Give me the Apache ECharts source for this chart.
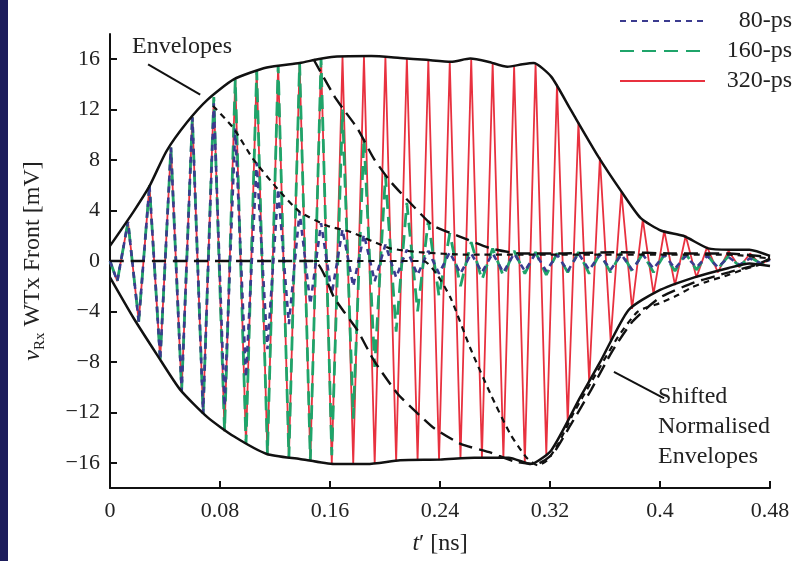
<!DOCTYPE html>
<html><head><meta charset="utf-8">
<script src="https://cdn.jsdelivr.net/npm/echarts@6/dist/echarts.min.js"></script>
<style>html,body{margin:0;padding:0;background:#fff}#c{width:803px;height:561px}</style>
</head><body><div id="c"></div>
<script>
// times of the extrema of the carrier
const tExt = [0, 0.0053, 0.0131, 0.0209, 0.0287, 0.0365, 0.0443, 0.0521, 0.0599, 0.0677, 0.0755,
  0.0833, 0.0911, 0.0989, 0.1067, 0.1145, 0.1223, 0.1301, 0.1379, 0.1457, 0.1535,
  0.1613, 0.1691, 0.1769, 0.1847, 0.1925, 0.2003, 0.2081, 0.2159, 0.2237, 0.2315,
  0.2393, 0.2471, 0.2549, 0.2627, 0.2705, 0.2783, 0.2861, 0.2939, 0.3017, 0.3095,
  0.3173, 0.3251, 0.3329, 0.3407, 0.3485, 0.3563, 0.3641, 0.3719, 0.3797, 0.3875,
  0.3953, 0.4031, 0.4109, 0.4187, 0.4265, 0.4343, 0.4421, 0.4499, 0.4577, 0.4655,
  0.4733, 0.48];

const v320 = [0, -1.6, 3.1, -4.8, 6.0, -7.8, 9.0, -10.3, 11.4, -12.1, 13.0,
  -13.5, 14.4, -14.5, 15.1, -15.3, 15.5, -15.6, 15.7, -15.8, 16.0,
  -16.1, 16.2, -16.1, 16.2, -16.1, 16.2, -15.9, 16.1, -15.8, 15.9,
  -15.8, 15.8, -15.7, 16.0, -15.6, 15.7, -15.6, 15.4, -16.0, 15.6,
  -15.3, 14.0, -12.8, 11.0, -9.6, 8.2, -6.3, 5.5, -3.8, 3.3,
  -2.6, 2.4, -1.9, 2.0, -1.3, 1.1, -0.9, 0.8, -0.5, 0.6,
  -0.3, 0.2];

const v160 = [0, -1.6, 3.1, -4.8, 6.0, -7.8, 9.0, -10.3, 11.4, -12.1, 13.0,
  -13.5, 14.4, -14.5, 15.1, -15.3, 15.5, -15.6, 15.7, -15.8, 16.0,
  -15.4, 12.0, -12.5, 9.8, -8.4, 6.8, -5.6, 4.6, -4.0, 3.2,
  -2.8, 2.2, -2.0, 1.5, -1.5, 1.0, -1.2, 0.8, -1.0, 0.7,
  -1.1, 0.6, -0.9, 0.7, -1.0, 0.6, -0.9, 0.7, -0.8, 0.6,
  -0.9, 0.5, -0.8, 0.6, -0.7, 0.5, -0.6, 0.4, -0.4, 0.3,
  -0.2, 0.1];

const v80 = [0, -1.6, 3.1, -4.8, 6.0, -7.8, 9.0, -10.3, 11.4, -12.1, 12.5,
  -11.5, 10.5, -9.2, 7.8, -7.0, 5.7, -5.0, 3.9, -3.4, 3.0,
  -2.6, 2.5, -2.0, 2.1, -1.6, 1.3, -1.3, 0.9, -1.1, 0.8,
  -1.0, 0.7, -1.0, 0.6, -0.9, 0.6, -0.9, 0.6, -0.8, 0.6,
  -0.8, 0.5, -0.8, 0.6, -0.7, 0.5, -0.7, 0.5, -0.7, 0.5,
  -0.6, 0.5, -0.6, 0.4, -0.5, 0.4, -0.5, 0.3, -0.3, 0.2,
  -0.2, 0.1];

// envelopes [t (ns), v (mV)]
const envUpper = [[0,1.2],[0.017,3.9],[0.029,6.0],[0.041,8.7],[0.056,11.0],[0.071,12.8],[0.09,14.4],
  [0.114,15.35],[0.138,15.7],[0.151,16.0],[0.163,16.2],[0.19,16.25],[0.211,16.1],[0.23,15.95],
  [0.248,15.8],[0.262,16.05],[0.275,15.8],[0.289,15.4],[0.3,15.6],[0.308,15.7],[0.321,14.6],
  [0.335,12.0],[0.355,8.3],[0.372,5.5],[0.386,3.4],[0.401,2.4],[0.417,2.0],[0.435,1.0],
  [0.45,0.9],[0.465,0.9],[0.48,0.4]];
const envLower = [[0,-1.3],[0.017,-4.5],[0.034,-7.4],[0.051,-10.2],[0.071,-12.4],[0.09,-13.9],
  [0.114,-15.3],[0.138,-15.7],[0.163,-16.1],[0.187,-16.1],[0.211,-15.8],[0.24,-15.75],
  [0.265,-15.6],[0.29,-15.6],[0.306,-16.1],[0.321,-15.0],[0.342,-10.8],[0.357,-7.9],
  [0.377,-3.9],[0.398,-2.4],[0.425,-1.3],[0.45,-0.55],[0.465,-0.2],[0.48,-0.4]];
const env160Upper = [[0.148,16],[0.163,13.1],[0.17,12.0],[0.18,10.5],[0.192,8.1],[0.204,6.3],
  [0.221,4.3],[0.235,2.8],[0.253,2.0],[0.277,1.0],[0.299,0.6],[0.33,0.6],[0.37,0.7],
  [0.41,0.6],[0.45,0.6],[0.48,0.3]];
const env160Lower = [[0,0],[0.148,0],[0.163,-2.9],[0.17,-4.0],[0.18,-5.5],[0.192,-7.9],
  [0.209,-10.5],[0.221,-11.8],[0.235,-13.2],[0.255,-14.5],[0.277,-15.2],[0.294,-15.9],
  [0.31,-16.1],[0.322,-15.3],[0.335,-13.0],[0.35,-10.2],[0.365,-7.2],[0.38,-4.8],
  [0.4,-2.9],[0.425,-1.7],[0.45,-0.9],[0.47,-0.3],[0.48,0.2]];
const env80Upper = [[0.075,12.3],[0.09,10.5],[0.104,8.1],[0.122,5.7],[0.138,3.9],[0.158,2.8],
  [0.175,2.3],[0.19,1.6],[0.204,1.0],[0.225,0.7],[0.26,0.5],[0.3,0.5],[0.35,0.5],
  [0.4,0.5],[0.45,0.5],[0.48,0.2]];
const env80Lower = [[0.148,0],[0.228,0],[0.238,-1.1],[0.248,-3.0],[0.262,-6.9],[0.277,-10.6],
  [0.291,-13.7],[0.303,-15.6],[0.311,-16.2],[0.318,-15.8],[0.326,-14.5],[0.337,-12.1],
  [0.35,-9.6],[0.369,-6.1],[0.384,-4.0],[0.401,-3.3],[0.413,-2.7],[0.423,-2.1],
  [0.435,-1.6],[0.447,-1.2],[0.46,-0.7],[0.475,-0.2],[0.48,0.2]];
// annotation pointers
const ptrEnvelopes = [[0.0277,15.6],[0.0656,13.2]];
const ptrShifted = [[0.3665,-8.8],[0.403,-10.9]];

const yTicks = [-16,-12,-8,-4,0,4,8,12,16];
const seriesNames = ['80-ps','160-ps','320-ps'];

const SERIF = '"Liberation Serif","Times New Roman",serif';
const zip = (t, v) => t.map((x, i) => [x, v[i]]);

function blackLine(data, type, w, smooth) {
  return { type: 'line', data, showSymbol: false, symbol: 'none', silent: true, z: 5,
    smooth: smooth ? 0.2 : false,
    lineStyle: { color: '#111', width: w, type } };
}

const chart = echarts.init(document.getElementById('c'), null, { renderer: 'canvas' });
chart.setOption({
  animation: false,
  backgroundColor: '#fff',
  grid: { left: 110, right: 33, top: 34, bottom: 70 },
  legend: {
    data: seriesNames, orient: 'vertical', right: 6, top: 4,
    itemWidth: 85, itemHeight: 12, itemGap: 6,
    itemStyle: { opacity: 0 },
    formatter: n => '{a|' + n + '}',
    textStyle: { rich: { a: { width: 82, align: 'right', fontFamily: SERIF, fontSize: 24, lineHeight: 26, color: '#222' } } }
  },
  xAxis: {
    type: 'value', min: 0, max: 0.48, interval: 0.08,
    name: '{it|t}{n|\u2032 [ns]}', nameLocation: 'middle', nameGap: 44,
    nameTextStyle: { rich: {
      it: { fontFamily: SERIF, fontSize: 24, fontStyle: 'italic', color: '#222' },
      n: { fontFamily: SERIF, fontSize: 24, color: '#222' } } },
    splitLine: { show: false },
    axisLine: { onZero: false, lineStyle: { color: '#111', width: 2 } },
    axisTick: { inside: true, length: 7, lineStyle: { color: '#111', width: 2 } },
    axisLabel: { margin: 12, fontFamily: SERIF, fontSize: 22, color: '#222', formatter: v => String(+v.toFixed(2)) }
  },
  yAxis: {
    type: 'value', min: -18, max: 18,
    name: '{iv|v}{sub|Rx}{n| WTx Front [mV]}', nameLocation: 'middle', nameGap: 62,
    nameTextStyle: { rich: {
      iv: { fontFamily: SERIF, fontSize: 24, fontStyle: 'italic', color: '#222', lineHeight: 30 },
      sub: { fontFamily: SERIF, fontSize: 15, color: '#222', verticalAlign: 'bottom', lineHeight: 30, padding: [8, 0, 0, 0] },
      n: { fontFamily: SERIF, fontSize: 24, color: '#222', lineHeight: 30 } } },
    splitLine: { show: false },
    axisLine: { show: true, onZero: false, lineStyle: { color: '#111', width: 2 } },
    axisTick: { inside: true, length: 7, customValues: yTicks, lineStyle: { color: '#111', width: 2 } },
    axisLabel: { margin: 10, customValues: yTicks, fontFamily: SERIF, fontSize: 22, color: '#222',
      formatter: v => v < 0 ? '\u2212' + Math.abs(v) : String(v) }
  },
  series: [
    { name: '320-ps', type: 'line', data: zip(tExt, v320), showSymbol: false, symbol: 'none', z: 2,
      lineStyle: { color: '#e8313f', width: 1.8, type: 'solid' }, itemStyle: { color: '#e8313f' } },
    { name: '160-ps', type: 'line', data: zip(tExt, v160), showSymbol: false, symbol: 'none', z: 3,
      lineStyle: { color: '#1fa46a', width: 2.8, type: [14, 8] }, itemStyle: { color: '#1fa46a' } },
    { name: '80-ps', type: 'line', data: zip(tExt, v80), showSymbol: false, symbol: 'none', z: 4,
      lineStyle: { color: '#3b3b8f', width: 2.6, type: [6, 5] }, itemStyle: { color: '#3b3b8f' } },
    blackLine(envUpper, 'solid', 2.5, true),
    blackLine(envLower, 'solid', 2.5, true),
    blackLine(env160Upper, [14, 7], 2.4, true),
    blackLine(env160Lower, [14, 7], 2.4, true),
    blackLine(env80Upper, [6, 5], 2.2, true),
    blackLine(env80Lower, [6, 5], 2.2, true),
    blackLine(ptrEnvelopes, 'solid', 2, false),
    blackLine(ptrShifted, 'solid', 2, false)
  ],
  graphic: [
    { type: 'rect', left: 0, top: 0, shape: { x: 0, y: 0, width: 8, height: 561 }, style: { fill: '#1d1d5c' } },
    { type: 'text', left: 132, top: 35, style: { text: 'Envelopes', font: '24px ' + SERIF, fill: '#222' } },
    { type: 'text', right: 33, top: 382, style: { text: 'Shifted\nNormalised\nEnvelopes', font: '24px ' + SERIF, fill: '#222', align: 'right', lineHeight: 30 } }
  ]
});
</script>
</body></html>
